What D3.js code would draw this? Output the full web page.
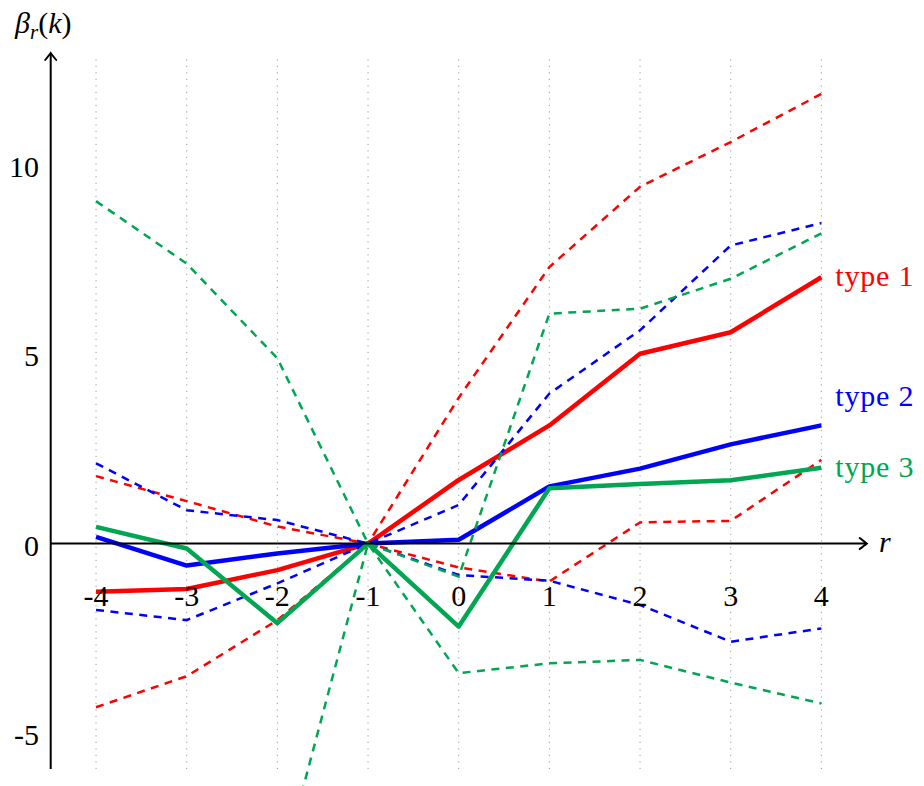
<!DOCTYPE html>
<html>
<head>
<meta charset="utf-8">
<script src="https://cdn.jsdelivr.net/npm/d3@7/dist/d3.min.js"></script>
<style>
  body { margin: 0; background: #fff; }
</style>
</head>
<body>
<div id="myChart"></div>
<script>

// values, r = -4 .. 4
var rValues = [-4, -3, -2, -1, 0, 1, 2, 3, 4];

var type1      = [-1.27, -1.20, -0.70, 0, 1.68, 3.12, 5.01, 5.58, 7.03];
var type1Upper = [1.78, 1.12, 0.45, 0, 3.85, 7.30, 9.42, 10.60, 11.87];
var type1Lower = [-4.32, -3.50, -2.02, 0, -0.63, -1.00, 0.56, 0.60, 2.21];

var type2      = [0.18, -0.58, -0.26, 0, 0.10, 1.51, 1.98, 2.62, 3.12];
var type2Upper = [2.12, 0.88, 0.62, 0, 1.02, 3.96, 5.63, 7.87, 8.46];
var type2Lower = [-1.75, -2.02, -1.05, 0, -0.83, -0.98, -1.62, -2.59, -2.24];

var type3      = [0.44, -0.13, -2.10, 0, -2.19, 1.46, 1.57, 1.67, 2.00];
var type3Upper = [9.04, 7.39, 4.89, 0, -0.87, 6.07, 6.20, 6.99, 8.19];
var type3Lower = [-12.5, -10.8, -9.0, 0, -3.42, -3.16, -3.07, -3.67, -4.22];

var seriesNames = ["type 1", "type 2", "type 3"];
var seriesColors = ["#ff0000", "#0000ff", "#00a651"];

var xTicks = [-4, -3, -2, -1, 0, 1, 2, 3, 4];
var yTicks = [-5, 0, 5, 10];


// pick a serif face that is really installed (canvas width test)
function hasFont(name) {
	var ctx = document.createElement("canvas").getContext("2d");
	var probe = "mmmwwwlliiAB0123 type";
	var found = false;
	["monospace", "sans-serif"].forEach(function(base) {
		ctx.font = "40px " + base;
		var w0 = ctx.measureText(probe).width;
		ctx.font = "40px '" + name + "', " + base;
		if (ctx.measureText(probe).width != w0) found = true;
	});
	return found;
}
var serifCandidates = ["Liberation Serif", "Tinos", "Times New Roman", "Nimbus Roman",
	"FreeSerif", "Noto Serif", "DejaVu Serif"];
var serif = "serif";
for (var c = 0; c < serifCandidates.length; c++) {
	if (hasFont(serifCandidates[c])) { serif = "'" + serifCandidates[c] + "'"; break; }
}


// Main svg window Sizes
var width = 924;
var height = 786;

var canvass = d3.select("#myChart")
	.append("svg")
	.attr("width", width)
	.attr("height", height)
	.style("font-family", serif);

// axis spans a bit more than the data, like the tikz picture
var xScale = d3.scaleLinear()
	.domain([-4.5, 4.5])
	.range([50.7, 866.7]);

var yScale = d3.scaleLinear()
	.domain([-5.95, 12.95])
	.range([769, 53]);


// dotted vertical grid
canvass.append("g")
	.selectAll("line")
	.data(xTicks)
	.enter()
	.append("line")
	.attr("x1", function(d) { return xScale(d); })
	.attr("x2", function(d) { return xScale(d); })
	.attr("y1", yScale(-5.95))
	.attr("y2", yScale(12.9))
	.attr("stroke", "#9a9a9a")
	.attr("stroke-width", 1)
	.attr("stroke-dasharray", "1.2,5.3");


// the curves: solid mean, dashed bounds
var lineFn = d3.line()
	.x(function(d, i) { return xScale(rValues[i]); })
	.y(function(d) { return yScale(d); });

var groups = [
	[type1, type1Upper, type1Lower],
	[type2, type2Upper, type2Lower],
	[type3, type3Upper, type3Lower]
];

var lineGrp = canvass.append("g");

for (var s = 0; s < groups.length; s++) {
	var col = seriesColors[s];
	// solid first, the dashed ones go over it
	lineGrp.append("path")
		.attr("d", lineFn(groups[s][0]))
		.attr("fill", "none")
		.attr("stroke", col)
		.attr("stroke-width", 4.5)
		.attr("stroke-linejoin", "round");
	for (var k = 1; k < 3; k++) {
		lineGrp.append("path")
			.attr("d", lineFn(groups[s][k]))
			.attr("fill", "none")
			.attr("stroke", col)
			.attr("stroke-width", 2.5)
			.attr("stroke-dasharray", "8,6.5");
	}
}


// axes with open arrow heads
var axisGrp = canvass.append("g");
var x0 = xScale(-4.5), x1 = xScale(4.5);
var yz = yScale(0);

axisGrp.append("line")
	.attr("x1", x0).attr("x2", x1 - 1)
	.attr("y1", yz).attr("y2", yz)
	.attr("stroke", "#000").attr("stroke-width", 2);

axisGrp.append("path")
	.attr("d", "M" + (x1 - 7) + "," + (yz - 5.5) + " Q" + (x1 - 2) + "," + (yz - 1.5) + " " + x1 + "," + yz +
		" Q" + (x1 - 2) + "," + (yz + 1.5) + " " + (x1 - 7) + "," + (yz + 5.5))
	.attr("fill", "none").attr("stroke", "#000").attr("stroke-width", 2)
	.attr("stroke-linecap", "round");

var ax = xScale(-4.5);
var yTop = yScale(12.95), yBot = yScale(-5.95);

axisGrp.append("line")
	.attr("x1", ax).attr("x2", ax)
	.attr("y1", yBot).attr("y2", yTop + 1)
	.attr("stroke", "#000").attr("stroke-width", 2);

axisGrp.append("path")
	.attr("d", "M" + (ax - 5.5) + "," + (yTop + 7) + " Q" + (ax - 1.5) + "," + (yTop + 2) + " " + ax + "," + yTop +
		" Q" + (ax + 1.5) + "," + (yTop + 2) + " " + (ax + 5.5) + "," + (yTop + 7))
	.attr("fill", "none").attr("stroke", "#000").attr("stroke-width", 2)
	.attr("stroke-linecap", "round");


// tick labels
canvass.append("g")
	.selectAll("text")
	.data(xTicks)
	.enter()
	.append("text")
	.attr("x", function(d) { return xScale(d); })
	.attr("y", yz + 62)
	.attr("text-anchor", "middle")
	.attr("font-size", 30)
	.text(function(d) { return String(d); });

canvass.append("g")
	.selectAll("text")
	.data(yTicks)
	.enter()
	.append("text")
	.attr("x", 39)
	.attr("y", function(d) { return yScale(d) + 12; })
	.attr("text-anchor", "end")
	.attr("font-size", 30)
	.text(function(d) { return String(d); });


// axis names
canvass.append("text")
	.attr("x", 879)
	.attr("y", yz + 8)
	.attr("font-size", 30)
	.attr("font-style", "italic")
	.text("r");

var title = canvass.append("text")
	.attr("x", 15)
	.attr("y", 33)
	.attr("font-size", 30);
title.append("tspan").attr("font-style", "italic").text("β");
title.append("tspan").attr("font-style", "italic").attr("font-size", 21).attr("dy", 6).text("r");
title.append("tspan").attr("dy", -6).text("(");
title.append("tspan").attr("font-style", "italic").text("k");
title.append("tspan").text(")");


// series names at the right end, type 2 lifted clear of type 3
var labelShift = [0, -28, 0];
canvass.append("g")
	.selectAll("text")
	.data(seriesNames)
	.enter()
	.append("text")
	.attr("x", xScale(4) + 14)
	.attr("y", function(d, i) { return yScale(groups[i][0][8]) + 9 + labelShift[i]; })
	.attr("font-size", 30)
	.attr("letter-spacing", 0.8)
	.attr("fill", function(d, i) { return seriesColors[i]; })
	.text(function(d) { return d; });

</script>
</body>
</html>
